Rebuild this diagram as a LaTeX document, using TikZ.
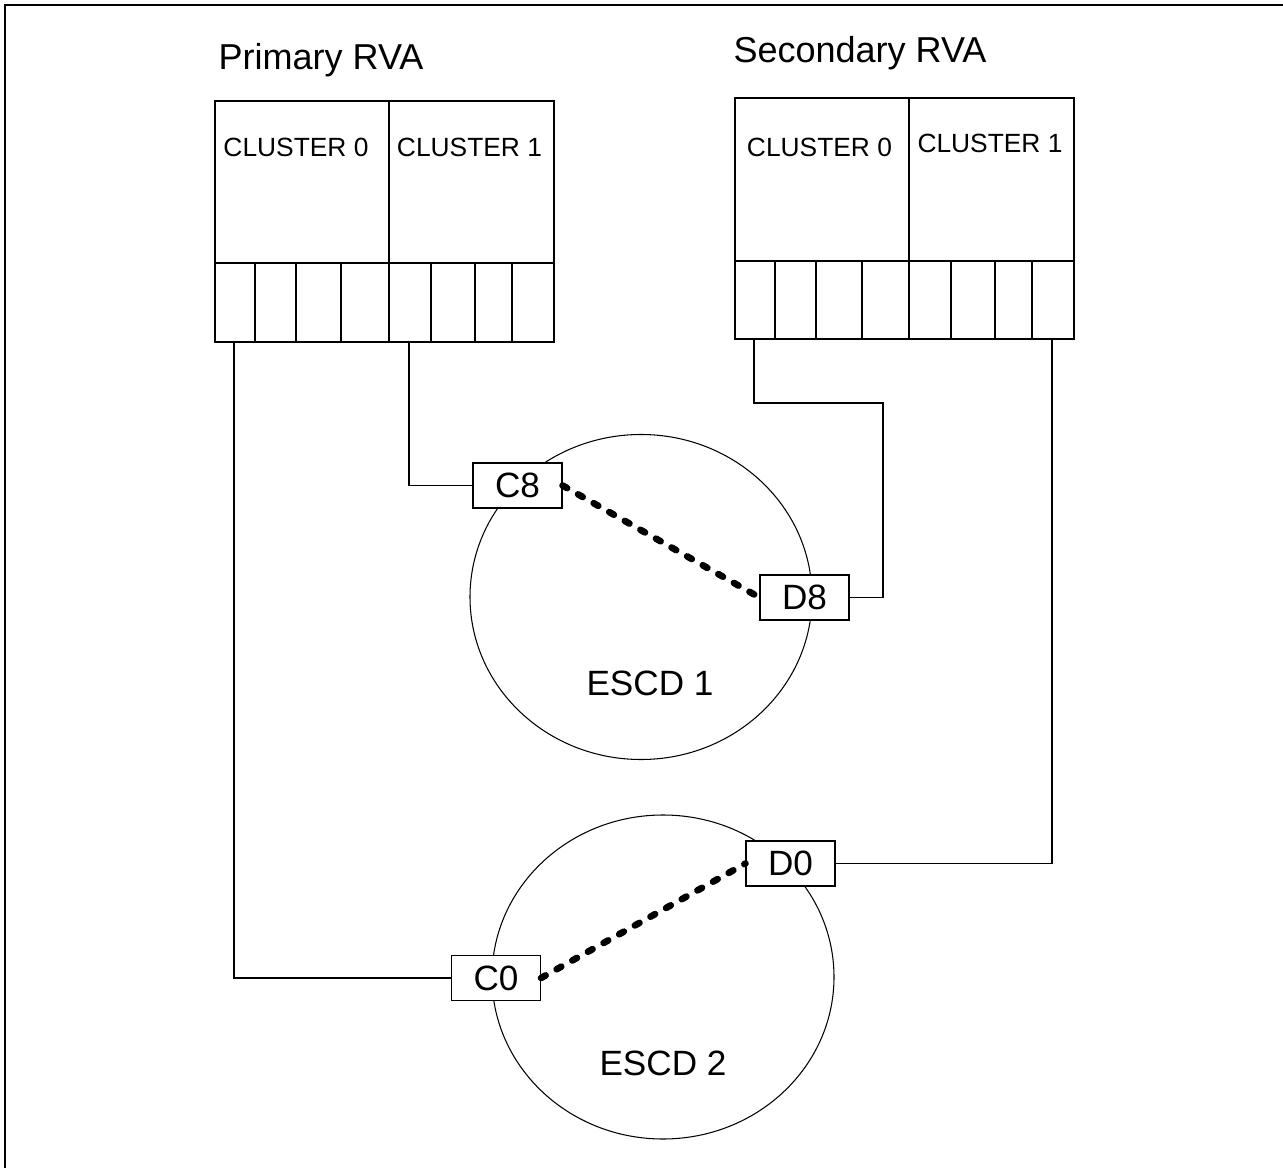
\documentclass[tikz,border=0pt]{standalone}
\usepackage{fontspec}
\setmainfont{Liberation Sans}
\usetikzlibrary{shapes.geometric}
\tikzset{
  port/.style={draw, fill=white, minimum width=1.78cm, minimum height=0.9cm, inner sep=0pt, font=\fontsize{20}{24}\selectfont},
  clus/.style={font=\fontsize{15}{18}\selectfont, inner sep=0pt},
  title/.style={font=\fontsize{20.5}{24}\selectfont, inner sep=0pt, anchor=base},
  escd/.style={draw, ellipse, minimum width=6.84cm, minimum height=6.5cm, inner sep=0pt},
  link/.style={line width=3.8pt, line cap=round, dash pattern=on 3pt off 7.2pt}
}
\begin{document}
\begin{tikzpicture}[x=0.2cm,y=-0.2cm,line width=0.6pt]
\useasboundingbox (0,0) rectangle (128.3,116.8);
\draw[line width=1.2pt] (0.5,116.8) -- (0.5,0.5) -- (128.3,0.5);
\node[title] (prim) at (32.1,7.0) {Primary RVA};
\node[title] (sec) at (86.0,6.3) {Secondary RVA};
\draw (21.5,10.1) rectangle (55.4,34.2);
\draw (21.5,26.3) -- (55.4,26.3);
\draw (38.9,10.1) -- (38.9,26.3);
\foreach \x in {25.5,29.6,34.1,38.9,43.1,47.5,51.2} \draw (\x,26.3) -- (\x,34.2);
\draw (73.5,9.8) rectangle (107.4,33.9);
\draw (73.5,26.1) -- (107.4,26.1);
\draw (90.9,9.8) -- (90.9,26.1);
\foreach \x in {77.5,81.6,86.2,90.9,95.1,99.5,103.2} \draw (\x,26.1) -- (\x,33.9);
\node[clus] (p0) at (29.6,14.7) {CLUSTER 0};
\node[clus] (p1) at (46.95,14.7) {CLUSTER 1};
\node[clus] (s0) at (81.95,14.75) {CLUSTER 0};
\node[clus] (s1) at (99.0,14.3) {CLUSTER 1};
\node[escd] (escd1) at (64.1,59.7) {};
\node[escd, minimum height=6.48cm] (escd2) at (66.3,97.7) {};
\node[font=\fontsize{20}{24}\selectfont] (e1lbl) at (65,68.3) {ESCD 1};
\node[font=\fontsize{20}{24}\selectfont] (e2lbl) at (66.3,106.3) {ESCD 2};
\node[port] (c8) at (51.75,48.55) {C8};
\node[port] (d8) at (80.45,59.75) {D8};
\node[port] (d0) at (79.05,86.35) {D0};
\node[port] (c0) at (49.6,97.8) {C0};
\coordinate (p0out) at (23.4,34.2);
\coordinate (p1out) at (40.9,34.2);
\coordinate (s0out) at (75.4,33.9);
\coordinate (s0bend) at (88.3,40.3);
\coordinate (s1out) at (105.2,33.9);
\draw (p0out) |- (c0.west);
\draw (p1out) |- (c8.west);
\draw (s0out) |- (s0bend) |- (d8.east);
\draw (s1out) |- (d0.east);
\draw[link] (c8.east) -- (d8.west);
\draw[link] (c0.east) -- (d0.west);
\end{tikzpicture}
\end{document}
